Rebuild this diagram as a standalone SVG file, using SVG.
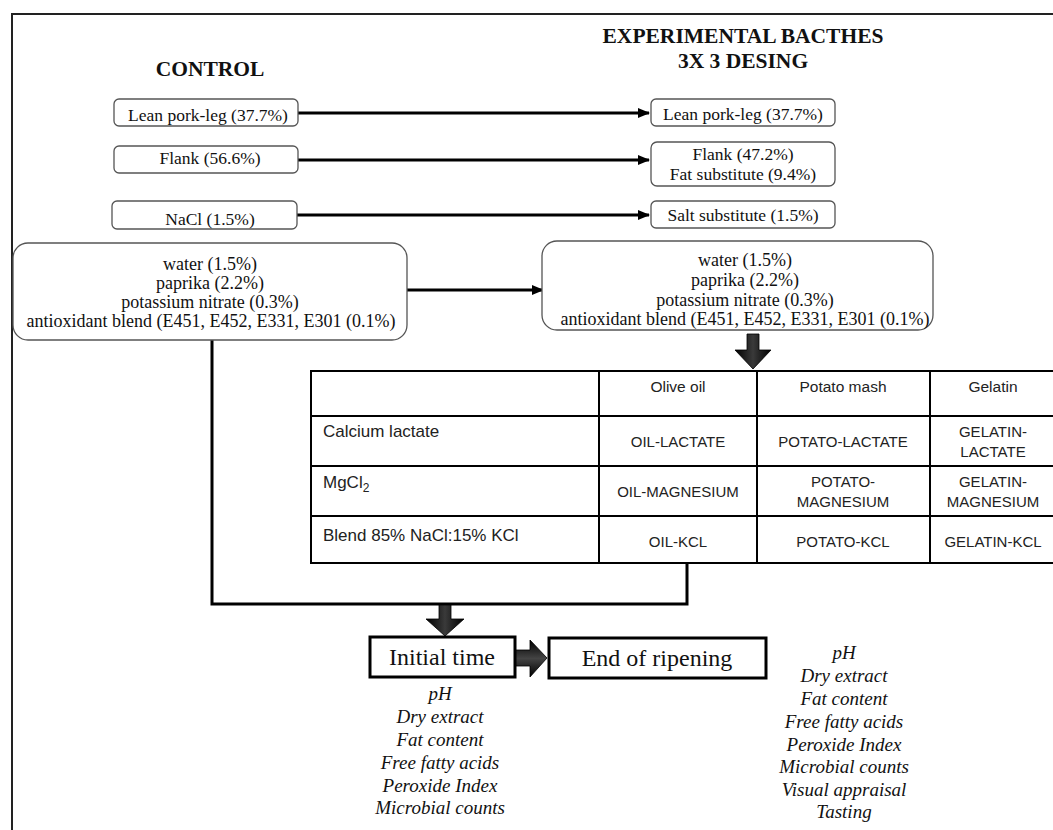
<svg xmlns="http://www.w3.org/2000/svg" width="1053" height="830" viewBox="0 0 1053 830">
<defs>
<style>
.box{fill:#fff;stroke:#555;stroke-width:1.3}
.t{font-family:"Liberation Serif","Times New Roman",serif;font-size:17.5px;fill:#111;text-anchor:middle}
.tl{font-size:18px}
.h{font-family:"Liberation Serif","Times New Roman",serif;font-weight:bold;font-size:21.5px;fill:#111;text-anchor:middle}
.conn{stroke:#000;stroke-width:3;fill:none}
.tbl{stroke:#000;stroke-width:2;fill:none}
.s{font-family:"Liberation Sans",Arial,sans-serif;font-size:17px;fill:#222}
.hd{font-family:"Liberation Sans",Arial,sans-serif;font-size:15.5px;fill:#222;text-anchor:middle}
.c{font-family:"Liberation Sans",Arial,sans-serif;font-size:15px;fill:#222;text-anchor:middle}
.i{font-family:"Liberation Serif","Times New Roman",serif;font-style:italic;font-size:19px;fill:#111;text-anchor:middle}
.tb{fill:#fff;stroke:#000;stroke-width:3}
.big{font-family:"Liberation Serif","Times New Roman",serif;font-size:24px;fill:#111;text-anchor:middle}
.blk{fill:url(#gv);stroke:#000;stroke-width:0.8}
</style>
<marker id="ah" markerUnits="userSpaceOnUse" markerWidth="12" markerHeight="10" refX="11" refY="5" orient="auto">
<path d="M0,0 L12,5 L0,10 z" fill="#000"/>
</marker>
<linearGradient id="gv" x1="0" y1="0" x2="1" y2="0">
<stop offset="0" stop-color="#000"/>
<stop offset="0.5" stop-color="#3a3a3a"/>
<stop offset="1" stop-color="#000"/>
</linearGradient>
<linearGradient id="gh" x1="0" y1="0" x2="0" y2="1">
<stop offset="0" stop-color="#000"/>
<stop offset="0.5" stop-color="#444"/>
<stop offset="1" stop-color="#000"/>
</linearGradient>
</defs>
<rect width="1053" height="830" fill="#fff"/>
<g id="frame"><path d="M12,830 V14 H1053" fill="none" stroke="#222" stroke-width="2"/></g>

<g id="titles">
<text class="h" x="210" y="76" font-size="23.5">CONTROL</text>
<text class="h" x="743" y="43">EXPERIMENTAL BACTHES</text>
<text class="h" x="743" y="68">3X 3 DESING</text>
</g>

<g id="connectors">
<path class="conn" d="M298,113 H649" marker-end="url(#ah)"/>
<path class="conn" d="M298,160 H649" marker-end="url(#ah)"/>
<path class="conn" d="M297,215 H649" marker-end="url(#ah)"/>
<path class="conn" d="M407,290 H543" marker-end="url(#ah)"/>
<path class="conn" d="M212,340 V604 H687 V563"/>
<polygon class="blk" points="747,334 759,334 759,350 771,350 753,369 735,350 747,350"/>
<polygon class="blk" points="439,605 451,605 451,619 464,619 445,636 426,619 439,619"/>
<polygon points="515,650 530,650 530,640 547,658 530,677 530,666 515,666" fill="url(#gh)" stroke="#000" stroke-width="0.8"/>
</g>

<g id="c-lean"><rect class="box" x="114" y="99" width="184" height="27" rx="5"/><text class="t" x="208" y="121">Lean pork-leg (37.7%)</text></g>
<g id="c-flank"><rect class="box" x="114" y="146" width="184" height="27" rx="5"/><text class="t" x="210" y="164">Flank (56.6%)</text></g>
<g id="c-nacl"><rect class="box" x="112" y="201" width="185" height="28" rx="5"/><text class="t" x="210" y="225">NaCl (1.5%)</text></g>
<g id="c-other"><rect class="box" x="13" y="243" width="394" height="97" rx="15"/>
<text class="t tl" x="210" y="270">water (1.5%)</text>
<text class="t tl" x="210" y="289">paprika (2.2%)</text>
<text class="t tl" x="210" y="308">potassium nitrate (0.3%)</text>
<text class="t tl" x="211" y="327">antioxidant blend (E451, E452, E331, E301 (0.1%)</text></g>

<g id="e-lean"><rect class="box" x="651" y="99" width="184" height="27" rx="5"/><text class="t" x="743" y="120">Lean pork-leg (37.7%)</text></g>
<g id="e-flank"><rect class="box" x="651" y="142" width="184" height="44" rx="6"/><text class="t" x="743" y="160">Flank (47.2%)</text><text class="t" x="743" y="180">Fat substitute (9.4%)</text></g>
<g id="e-salt"><rect class="box" x="651" y="201" width="184" height="27" rx="5"/><text class="t" x="743" y="221">Salt substitute (1.5%)</text></g>
<g id="e-other"><rect class="box" x="542" y="241" width="391" height="89" rx="15"/>
<text class="t tl" x="745" y="266">water (1.5%)</text>
<text class="t tl" x="745" y="286">paprika (2.2%)</text>
<text class="t tl" x="745" y="306">potassium nitrate (0.3%)</text>
<text class="t tl" x="745" y="325">antioxidant blend (E451, E452, E331, E301 (0.1%)</text></g>

<g id="table">
<rect class="tbl" x="311" y="371" width="750" height="192" fill="#fff"/>
<path class="tbl" d="M311,416 H1061 M311,466 H1061 M311,516 H1061 M599,371 V563 M757,371 V563 M930,371 V563"/>
<text class="hd" x="678" y="392">Olive oil</text>
<text class="hd" x="843" y="392">Potato mash</text>
<text class="hd" x="993" y="392">Gelatin</text>
<text class="s" x="323" y="437">Calcium lactate</text>
<text class="s" x="323" y="488">MgCl<tspan font-size="12" dy="4">2</tspan></text>
<text class="s" x="323" y="541">Blend 85% NaCl:15% KCl</text>
<text class="c" x="678" y="447">OIL-LACTATE</text>
<text class="c" x="843" y="447">POTATO-LACTATE</text>
<text class="c" x="993" y="437">GELATIN-</text>
<text class="c" x="993" y="457">LACTATE</text>
<text class="c" x="678" y="497">OIL-MAGNESIUM</text>
<text class="c" x="843" y="487">POTATO-</text>
<text class="c" x="843" y="507">MAGNESIUM</text>
<text class="c" x="993" y="487">GELATIN-</text>
<text class="c" x="993" y="507">MAGNESIUM</text>
<text class="c" x="678" y="547">OIL-KCL</text>
<text class="c" x="843" y="547">POTATO-KCL</text>
<text class="c" x="993" y="547">GELATIN-KCL</text>
</g>

<g id="initial"><rect class="tb" x="370" y="637" width="145" height="40"/><text class="big" x="442" y="665">Initial time</text></g>
<g id="end"><rect class="tb" x="549" y="638" width="217" height="40"/><text class="big" x="657" y="666" font-size="25">End of ripening</text></g>

<g id="initial-list">
<text class="i" x="440" y="700">pH</text>
<text class="i" x="440" y="723">Dry extract</text>
<text class="i" x="440" y="746">Fat content</text>
<text class="i" x="440" y="769">Free fatty acids</text>
<text class="i" x="440" y="792">Peroxide Index</text>
<text class="i" x="440" y="814">Microbial counts</text>
</g>
<g id="end-list">
<text class="i" x="844" y="659">pH</text>
<text class="i" x="844" y="682">Dry extract</text>
<text class="i" x="844" y="705">Fat content</text>
<text class="i" x="844" y="728">Free fatty acids</text>
<text class="i" x="844" y="751">Peroxide Index</text>
<text class="i" x="844" y="773">Microbial counts</text>
<text class="i" x="844" y="796">Visual appraisal</text>
<text class="i" x="844" y="818">Tasting</text>
</g>
</svg>
